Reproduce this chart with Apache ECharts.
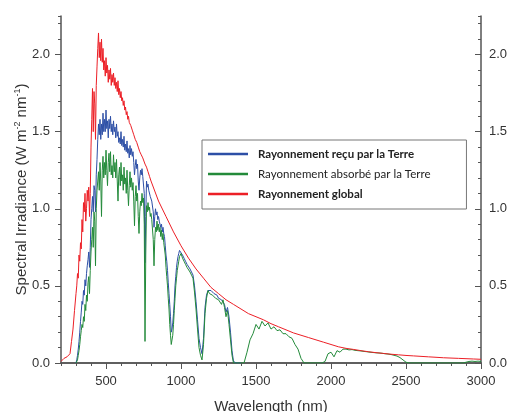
<!DOCTYPE html>
<html>
<head>
<meta charset="utf-8">
<script src="https://cdn.jsdelivr.net/npm/echarts@6/dist/echarts.min.js"></script>
<style>
  html, body { margin: 0; padding: 0; background: #fff; }
  #chart { width: 510px; height: 412px; }
</style>
</head>
<body>
<div id="chart"></div>
<script>
// rayonnement global (red), wavelengths in nm
var redWl = [200, 210, 220, 230, 240, 250, 260, 270, 280, 290,
  300, 305, 310, 315, 320, 325, 330, 335, 340, 345, 350, 355, 360, 365, 370, 375, 380, 385, 390, 395,
  400, 405, 410, 415, 420, 425, 430, 435, 440, 445, 450, 455, 460, 465, 470, 475, 480, 485, 490, 495,
  500, 505, 510, 515, 520, 525, 530, 535, 540, 545, 550, 555, 560, 565, 570, 575, 580, 585, 590, 595,
  600, 605, 610, 615, 620, 625, 630, 635, 640, 645, 650, 655, 660, 665, 670, 675, 680, 685, 690, 695,
  700, 705, 710, 715, 720, 725, 730, 735, 740, 745, 750,
  760, 770, 780, 790, 800,
  850, 900, 950, 1000, 1050, 1100, 1150, 1200, 1250, 1300, 1350, 1400, 1450, 1500, 1550, 1600, 1650, 1700,
  1750, 1800, 1850, 1900, 1950, 2000, 2050, 2100, 2150, 2200, 2250, 2300, 2350, 2400, 2450, 2500, 2550,
  2600, 2650, 2700, 2750, 2800, 2850, 2900, 2950, 3000];
var redVal = [0.01, 0.02, 0.03, 0.04, 0.04, 0.05, 0.06, 0.14, 0.22, 0.34,
  0.45, 0.50, 0.58, 0.55, 0.70, 0.66, 0.78, 0.74, 0.93, 0.85, 1.04, 0.98, 1.10, 0.92, 1.00, 1.12, 1.05, 1.14, 0.95, 1.10,
  1.40, 1.58, 1.78, 1.50, 1.76, 1.68, 1.45, 1.80, 1.92, 2.04, 2.14, 1.98, 2.08, 1.96, 2.10, 1.95, 2.04, 1.90, 1.96, 1.86,
  1.98, 1.88, 1.93, 1.82, 1.90, 1.84, 1.91, 1.80, 1.87, 1.82, 1.88, 1.80, 1.85, 1.78, 1.82, 1.76, 1.83, 1.74, 1.78, 1.72,
  1.76, 1.70, 1.72, 1.67, 1.70, 1.64, 1.66, 1.61, 1.63, 1.58, 1.60, 1.56, 1.57, 1.54, 1.55, 1.51, 1.52, 1.48, 1.49, 1.45,
  1.46, 1.43, 1.43, 1.40, 1.40, 1.37, 1.38, 1.35, 1.35, 1.33, 1.32,
  1.29, 1.27, 1.24, 1.21, 1.18,
  1.05, 0.95, 0.85, 0.76, 0.68, 0.61, 0.55, 0.49, 0.45, 0.41, 0.38, 0.35, 0.32, 0.30, 0.28, 0.255, 0.235, 0.215,
  0.195, 0.18, 0.165, 0.15, 0.135, 0.12, 0.105, 0.095, 0.088, 0.08, 0.073, 0.067, 0.062, 0.057, 0.053, 0.049, 0.046,
  0.043, 0.04, 0.037, 0.034, 0.032, 0.03, 0.028, 0.026, 0.024];

// blue and green share this grid up to 1400 nm
var bandWl = [300, 305, 310, 315, 320, 325, 330, 335, 340, 345, 350, 355, 360, 365, 370, 375, 380, 385, 390, 395,
  400, 405, 410, 415, 420, 425, 430, 435, 440, 445, 450, 455, 460, 465, 470, 475, 480, 485, 490, 495,
  500, 505, 510, 515, 520, 525, 530, 535, 540, 545, 550, 555, 560, 565, 570, 575, 580, 585, 590, 595,
  600, 605, 610, 615, 620, 625, 630, 635, 640, 645, 650, 655, 660, 665, 670, 675, 680, 685, 690, 695,
  700, 705, 710, 715, 720, 725, 730, 735, 740, 745, 750, 755, 760, 765, 770, 775, 780, 785, 790, 795,
  800, 805, 810, 815, 820, 825, 830, 835, 840, 845, 850, 855, 860, 865, 870, 875, 880, 885, 890, 895,
  900, 905, 910, 915, 920, 925, 930, 935, 940, 945, 950, 955, 960, 965, 970, 975, 980, 985, 990, 995,
  1000,
  1010, 1020, 1030, 1040, 1050, 1060, 1070, 1080, 1090, 1100, 1110, 1120, 1130, 1140, 1150, 1160, 1170, 1180, 1190, 1200,
  1210, 1220, 1230, 1240, 1250, 1260, 1270, 1280, 1290, 1300, 1310, 1320, 1330, 1340, 1350, 1360, 1370, 1380, 1390, 1400];
// rayonnement reçu (blue)
var blueVal = [0.00, 0.02, 0.05, 0.09, 0.14, 0.20, 0.27, 0.33, 0.40, 0.38, 0.47, 0.44, 0.54, 0.50, 0.58, 0.63, 0.67, 0.72, 0.62, 0.75,
  0.93, 1.00, 1.08, 0.98, 1.15, 1.12, 0.98, 1.22, 1.32, 1.45, 1.55, 1.48, 1.58, 1.45, 1.55, 1.48, 1.62, 1.50, 1.58, 1.50,
  1.64, 1.52, 1.57, 1.46, 1.58, 1.52, 1.60, 1.50, 1.55, 1.48, 1.57, 1.50, 1.53, 1.46, 1.55, 1.47, 1.50, 1.43, 1.46, 1.42,
  1.50, 1.41, 1.45, 1.40, 1.47, 1.38, 1.42, 1.37, 1.44, 1.36, 1.39, 1.33, 1.41, 1.35, 1.39, 1.34, 1.37, 1.30, 1.22, 1.28,
  1.32, 1.26, 1.29, 1.18, 1.12, 1.20, 1.25, 1.22, 1.26, 1.21, 1.22, 1.10, 0.65, 0.95, 1.18, 1.14, 1.16, 1.12, 1.13, 1.08,
  1.09, 1.05, 1.04, 0.98, 0.88, 0.95, 1.00, 0.96, 0.98, 0.93, 0.95, 0.92, 0.93, 0.88, 0.90, 0.85, 0.88, 0.84, 0.82, 0.76,
  0.70, 0.66, 0.60, 0.52, 0.45, 0.38, 0.30, 0.20, 0.22, 0.26, 0.32, 0.40, 0.50, 0.56, 0.62, 0.66, 0.69, 0.71, 0.73, 0.72,
  0.73,
  0.70, 0.68, 0.66, 0.64, 0.63, 0.61, 0.60, 0.57, 0.50, 0.40, 0.28, 0.16, 0.10, 0.06, 0.16, 0.36, 0.44, 0.47, 0.46, 0.47,
  0.46, 0.45, 0.44, 0.44, 0.42, 0.43, 0.41, 0.41, 0.38, 0.33, 0.36, 0.30, 0.20, 0.08, 0.01, 0, 0, 0, 0, 0];
// rayonnement absorbé (green)
var greenVal = [0.00, 0.01, 0.02, 0.05, 0.08, 0.12, 0.17, 0.21, 0.25, 0.23, 0.30, 0.27, 0.38, 0.34, 0.44, 0.40, 0.52, 0.56, 0.45, 0.60,
  0.72, 0.80, 0.88, 0.75, 0.98, 0.92, 0.63, 1.00, 1.12, 1.18, 1.24, 1.12, 1.30, 1.18, 0.95, 1.25, 1.34, 1.20, 1.30, 1.22,
  1.38, 1.25, 1.15, 1.30, 1.36, 1.24, 1.37, 1.22, 1.28, 1.20, 1.35, 1.24, 1.30, 1.20, 1.32, 1.18, 1.05, 1.22, 1.27, 1.15,
  1.30, 1.18, 1.22, 1.12, 1.27, 1.16, 1.20, 1.10, 1.25, 1.12, 1.02, 1.15, 1.24, 1.14, 1.20, 1.12, 1.17, 1.05, 0.89, 1.08,
  1.15, 1.05, 1.10, 0.95, 0.84, 0.98, 1.05, 1.02, 1.10, 1.04, 1.07, 0.90, 0.14, 0.70, 1.02, 0.98, 1.04, 0.99, 1.01, 0.95,
  0.97, 0.93, 0.92, 0.80, 0.63, 0.80, 0.88, 0.85, 0.92, 0.86, 0.90, 0.85, 0.88, 0.82, 0.86, 0.80, 0.84, 0.78, 0.78, 0.70,
  0.62, 0.56, 0.50, 0.42, 0.35, 0.25, 0.18, 0.12, 0.13, 0.18, 0.25, 0.34, 0.42, 0.50, 0.55, 0.60, 0.63, 0.66, 0.69, 0.68,
  0.71,
  0.68, 0.66, 0.64, 0.62, 0.61, 0.59, 0.57, 0.55, 0.46, 0.35, 0.22, 0.10, 0.05, 0.02, 0.12, 0.32, 0.42, 0.47, 0.45, 0.46,
  0.44, 0.45, 0.42, 0.43, 0.41, 0.42, 0.38, 0.41, 0.36, 0.30, 0.34, 0.25, 0.15, 0.05, 0, 0, 0, 0, 0, 0];

// green beyond 1400 nm
var tailWl = [1420, 1440, 1460, 1480, 1500, 1520, 1540, 1560, 1580, 1600, 1620, 1640, 1660, 1680, 1700, 1720, 1740, 1760, 1780, 1800,
  1820, 1840, 1860, 1880, 1900, 1920, 1940, 1960, 1980, 2000, 2020, 2040, 2060, 2080, 2100, 2120, 2140, 2160, 2180, 2200,
  2220, 2240, 2260, 2280, 2300, 2320, 2340, 2360, 2380, 2400, 2420, 2440, 2460, 2480, 2500, 2520, 2540, 2560, 2580, 2600,
  2620, 2640, 2660, 2680, 2700, 2720, 2740, 2760, 2780, 2800, 2820, 2840, 2860, 2880, 2900, 2920, 2940, 2960, 2980, 3000];
var greenTail = [0.00, 0.07, 0.15, 0.19, 0.25, 0.22, 0.27, 0.24, 0.26, 0.22, 0.235, 0.21, 0.215, 0.19, 0.19, 0.17, 0.16, 0.12, 0.09, 0.03,
  0, 0, 0, 0, 0, 0, 0, 0.01, 0.06, 0.07, 0.04, 0.08, 0.07, 0.09, 0.09, 0.085, 0.087, 0.082, 0.08, 0.078,
  0.075, 0.073, 0.07, 0.068, 0.066, 0.065, 0.063, 0.06, 0.058, 0.055, 0.05, 0.045, 0.035, 0.02, 0.005, 0, 0, 0, 0, 0,
  0, 0, 0, 0, 0, 0, 0, 0, 0, 0, 0, 0, 0, 0, 0.005, 0.01, 0.012, 0.01, 0.012, 0.01];

var xMajor = [500, 1000, 1500, 2000, 2500, 3000];
var yMajor = [0, 0.5, 1, 1.5, 2];
var names = ['Rayonnement reçu par la Terre', 'Rayonnement absorbé par la Terre', 'Rayonnement global'];

function pairs(xs, ys) {
  var out = [];
  for (var i = 0; i < xs.length; i++) out.push([xs[i], ys[i]]);
  return out;
}

var chart = echarts.init(document.getElementById('chart'));
var axisCol = '#555';
var labelFont = 'Liberation Sans';

function xAx(pos, major, inside, showLabel) {
  var a = {
    type: 'value', min: 200, max: 3000, position: pos,
    axisLine: {show: major, lineStyle: {color: axisCol, width: 1.5}},
    axisTick: {show: true, inside: inside, length: major ? 6 : 3, lineStyle: {color: axisCol}},
    axisLabel: {show: false},
    splitLine: {show: false}
  };
  if (major) {
    a.axisTick.customValues = xMajor;
    a.axisLabel = {show: showLabel, customValues: xMajor, color: '#333', fontSize: 13, fontFamily: labelFont, margin: 12,
      formatter: function (v) { return String(v); }};
  } else {
    a.interval = 100;
  }
  return a;
}

function yAx(pos, major, inside) {
  var a = {
    type: 'value', min: 0, max: 2.25, position: pos,
    axisLine: {show: major, lineStyle: {color: axisCol, width: 1.5}},
    axisTick: {show: true, inside: inside, length: major ? 6 : 3, lineStyle: {color: axisCol}},
    axisLabel: {show: false},
    splitLine: {show: false}
  };
  if (major) {
    a.axisTick.customValues = yMajor;
    a.axisLabel = {show: true, customValues: yMajor, color: '#333', fontSize: 13, fontFamily: labelFont,
      margin: pos === 'left' ? 11 : 8,
      formatter: function (v) { return v.toFixed(1); }};
  } else {
    a.interval = 0.1;
  }
  return a;
}

var xs = [xAx('bottom', true, false, true), xAx('bottom', false, false), xAx('top', true, true, false), xAx('top', false, true)];
xs[0].name = 'Wavelength (nm)';
xs[0].nameLocation = 'middle';
xs[0].nameGap = 36;
xs[0].nameMoveOverlap = false;
xs[0].nameTextStyle = {color: '#333', fontSize: 15, fontFamily: labelFont};

var ys = [yAx('left', true, false), yAx('left', false, false), yAx('right', true, true), yAx('right', false, true)];
ys[0].name = '{t|Spectral Irradiance (W m}{s|-2}{t| nm}{s|-1}{t|)}';
ys[0].nameLocation = 'middle';
ys[0].nameGap = 31;
ys[0].nameMoveOverlap = false;
ys[0].nameTextStyle = {
  color: '#333', fontFamily: labelFont,
  rich: {
    t: {fontSize: 15, fontFamily: labelFont, color: '#333'},
    s: {fontSize: 9, fontFamily: labelFont, color: '#333', verticalAlign: 'top', padding: [0, 0, 8, 0]}
  }
};

var option = {
  animation: false,
  backgroundColor: '#fff',
  grid: {left: 61, right: 29, top: 16, bottom: 49, outerBoundsMode: 'none', containLabel: false},
  legend: {
    orient: 'vertical', left: 202, top: 140,
    padding: [8, 36, 9, 6], itemGap: 8, itemWidth: 40, itemHeight: 2.5,
    icon: 'rect',
    borderColor: '#777', borderWidth: 1,
    data: names,
    formatter: function (n) {
      return n === names[1] ? '{n|' + n + '}' : '{b|' + n + '}';
    },
    textStyle: {
      rich: {
        b: {fontFamily: 'Lato', fontSize: 11.5, fontWeight: 'bold', color: '#222', padding: [0, 0, 0, 5]},
        n: {fontFamily: 'Lato', fontSize: 11.5, fontWeight: 'normal', color: '#222', padding: [0, 0, 0, 5]}
      }
    }
  },
  xAxis: xs,
  yAxis: ys,
  series: [
    {name: names[0], type: 'line', showSymbol: false, color: '#2d4fa6', lineStyle: {width: 1}, data: pairs(bandWl, blueVal)},
    {name: names[1], type: 'line', showSymbol: false, color: '#238a3a', lineStyle: {width: 1},
      data: pairs(bandWl, greenVal).concat(pairs(tailWl, greenTail))},
    {name: names[2], type: 'line', showSymbol: false, color: '#ec1f26', lineStyle: {width: 1}, data: pairs(redWl, redVal)}
  ]
};
chart.setOption(option);
</script>
</body>
</html>
